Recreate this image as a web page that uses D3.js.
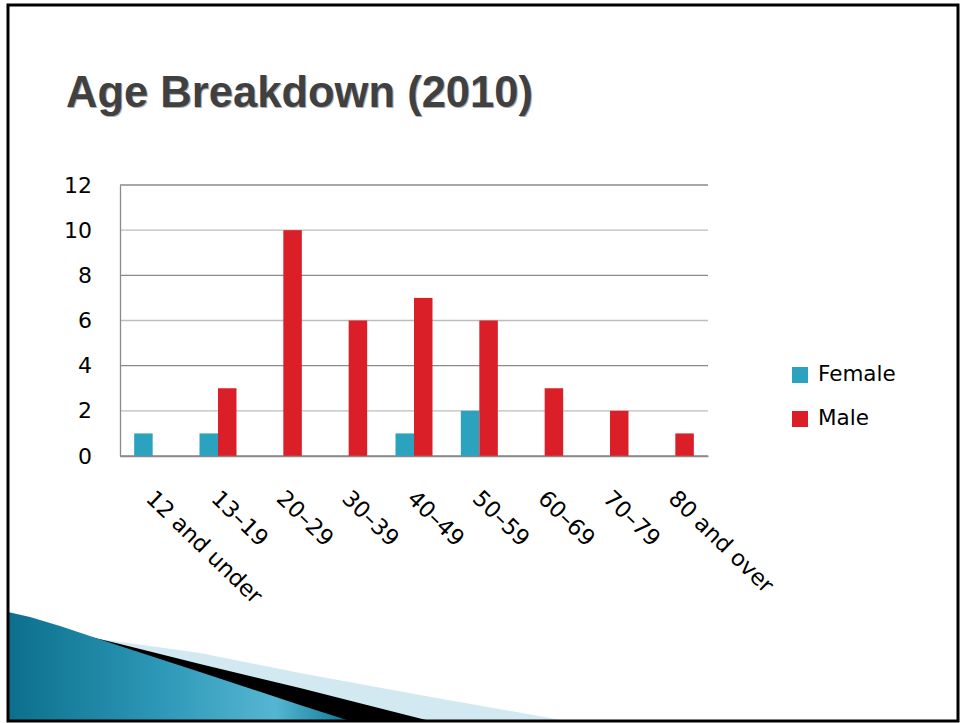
<!DOCTYPE html>
<html>
<head>
<meta charset="utf-8">
<script src="https://cdn.jsdelivr.net/npm/d3@7"></script>
<style>
  html, body { margin: 0; padding: 0; background: #fff; }
  svg { display: block; }
</style>
</head>
<body>
<svg id="chart" width="960" height="723"></svg>
<script>
const titleText = "Age Breakdown (2010)";
const categories = ["12 and under", "13\u201319", "20\u201329", "30\u201339", "40\u201349", "50\u201359", "60\u201369", "70\u201379", "80 and over"];
const seriesNames = ["Female", "Male"];
const femaleValues = [1, 1, 0, 0, 1, 2, 0, 0, 0];
const maleValues = [0, 3, 10, 6, 7, 6, 3, 2, 1];
const yTicks = [0, 2, 4, 6, 8, 10, 12];
const seriesColors = ["#2ba3bf", "#da1f28"];

const svg = d3.select("#chart");

// decorative bottom-left shapes (slide theme)
const defs = svg.append("defs");
const tg = defs.append("linearGradient").attr("id", "tealGrad")
  .attr("x1", "0%").attr("y1", "0%").attr("x2", "100%").attr("y2", "0%");
tg.append("stop").attr("offset", "0%").attr("stop-color", "#0b6f8c");
tg.append("stop").attr("offset", "45%").attr("stop-color", "#2e98b8");
tg.append("stop").attr("offset", "78%").attr("stop-color", "#55b6d2");
tg.append("stop").attr("offset", "100%").attr("stop-color", "#0e7896");

const line = d3.line().curve(d3.curveLinear);
svg.append("path")
  .attr("d", line([[85, 637], [200, 653], [300, 673], [420, 695], [567, 721], [85, 721]]) + "Z")
  .attr("fill", "#d2e9f1");
svg.append("path")
  .attr("d", line([[70, 632], [120, 644], [200, 664], [300, 688], [430, 721], [70, 721]]) + "Z")
  .attr("fill", "#000");
svg.append("path")
  .attr("d", line([[8, 612], [30, 617], [60, 626], [120, 646], [200, 672], [300, 705], [350, 721], [8, 721]]) + "Z")
  .attr("fill", "url(#tealGrad)");

// slide border
svg.append("rect").attr("x", 8).attr("y", 5).attr("width", 950).attr("height", 716)
  .attr("fill", "none").attr("stroke", "#000").attr("stroke-width", 3);

// title
const titleFont = "'Liberation Sans', Arial, sans-serif";
svg.append("text").attr("x", 67).attr("y", 108)
  .attr("font-family", titleFont)
  .attr("font-weight", "bold").attr("font-size", 44)
  .attr("textLength", 467).attr("lengthAdjust", "spacingAndGlyphs")
  .attr("fill", "#b0b0b0").text(titleText);
svg.append("text").attr("x", 66).attr("y", 107)
  .attr("font-family", titleFont)
  .attr("font-weight", "bold").attr("font-size", 44)
  .attr("textLength", 467).attr("lengthAdjust", "spacingAndGlyphs")
  .attr("fill", "#404040").text(titleText);

// chart
const plot = { left: 120, right: 708, top: 185, bottom: 456 };
const x0 = d3.scaleBand().domain(categories).range([plot.left, plot.right]).padding(0);
const x1 = d3.scaleBand().domain(seriesNames).range([0, x0.bandwidth()]).paddingInner(0).paddingOuter(0.766);
const y = d3.scaleLinear().domain([0, 12]).range([plot.bottom, plot.top]);

const fontFam = "'DejaVu Sans', sans-serif";

// gridlines
svg.append("g").selectAll("line").data(yTicks).join("line")
  .attr("x1", plot.left).attr("x2", plot.right)
  .attr("y1", d => y(d)).attr("y2", d => y(d))
  .attr("stroke", (d, i) => i % 2 === 0 ? "#8a8a8a" : "#bdbdbd").attr("stroke-width", 1.3);

// y axis
const yAxis = d3.axisLeft(y).tickValues(yTicks).tickSize(0).tickPadding(28);
const yg = svg.append("g").attr("transform", `translate(${plot.left},0)`).call(yAxis);
yg.select(".domain").attr("stroke", "#8a8a8a").attr("stroke-width", 1.3);
yg.selectAll("text").attr("font-family", fontFam).attr("font-size", 22).attr("fill", "#000");

// bars
const rows = categories.map((c, i) => ({ cat: c, vals: [femaleValues[i], maleValues[i]] }));
const groups = svg.append("g").selectAll("g").data(rows).join("g")
  .attr("transform", d => `translate(${x0(d.cat)},0)`);
groups.selectAll("rect").data(d => d.vals.map((v, j) => ({ s: seriesNames[j], v, j })).filter(e => e.v > 0))
  .join("rect")
  .attr("x", d => x1(d.s)).attr("width", x1.bandwidth())
  .attr("y", d => y(d.v)).attr("height", d => y(0) - y(d.v))
  .attr("fill", d => seriesColors[d.j]);

// x axis
const xAxis = d3.axisBottom(x0).tickSize(0).tickPadding(0);
const xg = svg.append("g").attr("transform", `translate(0,${plot.bottom})`).call(xAxis);
xg.select(".domain").attr("stroke", "#8a8a8a").attr("stroke-width", 1.3);
xg.selectAll("text")
  .attr("font-family", fontFam).attr("font-size", 22.5).attr("fill", "#000")
  .attr("text-anchor", "start").attr("dy", null).attr("y", 0)
  .attr("transform", "translate(-8,44) rotate(44)");

// legend
const legend = svg.append("g").selectAll("g").data(seriesNames).join("g")
  .attr("transform", (d, i) => `translate(792,${367 + i * 44})`);
legend.append("rect").attr("width", 16).attr("height", 16).attr("fill", (d, i) => seriesColors[i]);
legend.append("text").attr("x", 26).attr("y", 14)
  .attr("font-family", fontFam).attr("font-size", 21.5).attr("fill", "#000").text(d => d);
</script>
</body>
</html>
